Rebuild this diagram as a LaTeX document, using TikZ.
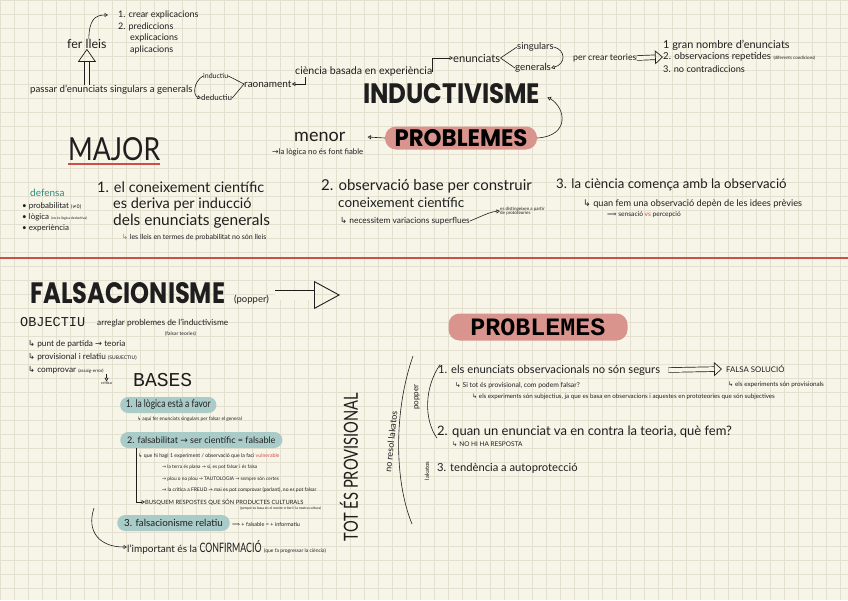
\documentclass[tikz,border=0pt]{standalone}
\usepackage{fontspec}
\usepackage{tikz}
\usepackage{xcolor}
\setmainfont{Lato}
\newfontfamily\epheavy{Poppins}
\newfontfamily\epmono{Liberation Mono}
\newfontfamily\epsymf{DejaVu Sans}
\newcommand{\epfs}[1]{\fontsize{#1}{#1}\selectfont}
\newcommand{\ephk}{{\epsymf ↳}}
\newcommand{\epto}{{\epsymf →}}
\newcommand{\epimp}{{\epsymf ⟹}}
\usetikzlibrary{arrows.meta,positioning}
\definecolor{epbg}{RGB}{247,244,232}
\definecolor{epgrid}{RGB}{228,224,208}
\definecolor{epink}{RGB}{30,30,30}
\definecolor{epred}{RGB}{204,79,74}
\definecolor{eppink}{RGB}{217,148,142}
\definecolor{epteal}{RGB}{46,139,122}
\definecolor{eplightteal}{RGB}{170,204,200}
\tikzset{
  ept/.style={anchor=west, inner sep=0pt, text=epink, font=\epfs{#1}},
  ept/.default=9,
  eptitle/.style={anchor=west, inner sep=0pt, text=epink},
  eppillred/.style={fill=eppink, rounded corners=11pt, inner sep=0pt, align=center},
  eppillteal/.style={fill=eplightteal, rounded corners=8pt, inner xsep=7pt, inner ysep=0pt, minimum height=16pt},
  epline/.style={line width=.6pt, draw=epink},
  eparr/.style={-{Triangle[open, length=3.5pt, width=4pt]}, line width=.6pt, draw=epink},
  ephollow/.style={line width=.7pt, draw=epink, double=epbg, double distance=4pt, -{Triangle[open, length=8pt, width=14pt]}},
  ephollowbig/.style={line width=.9pt, draw=epink, double=epbg, double distance=9pt, -{Triangle[open, length=26pt, width=28pt]}},
  epdivider/.style={line width=2.4pt, draw=epred}
}

\begin{document}
\begin{tikzpicture}[x=1pt, y=-1pt]
  \useasboundingbox (0,0) rectangle (848,600);
  \fill[epbg] (0,0) rectangle (848,600);
  \draw[epgrid, line width=.4pt, step=14pt] (0,0) grid (848,600);

  % inductivisme
  \node[ept=9] (crear) at (118,15) {1. crear explicacions};
  \node[ept=9] (predic) at (118,27) {2. prediccions};
  \node[ept=9] (explic) at (130,38) {explicacions};
  \node[ept=9] (aplic) at (130,50) {aplicacions};
  \node[ept=12.5] (lleis) at (67,44) {fer lleis};
  \node[ept=9.7] (passar) at (30,90) {passar d'enunciats singulars a generals};
  \node[ept=7] (inductiu) at (203,76) {inductiu};
  \node[ept=8] (deductiu) at (201,98) {deductiu};
  \node[ept=10] (raona) at (244,84) {raonament};
  \node[ept=10.6] (ciencia) at (295,72) {ciència basada en experiència};
  \node[ept=11.2] (enunc) at (453,58) {enunciats};
  \node[ept=9.5] (singul) at (517,47) {singulars};
  \node[ept=9.8] (general) at (515,68) {generals};
  \node[ept=8.8] (crearteo) at (573,58) {per crear teories};
  \node[ept=10.9] (gran) at (663,45) {1 gran nombre d'enunciats};
  \node[ept=9.6] (obsrep) at (663,57) {2. observacions repetides {\epfs{4.5}(diferents condicions)}};
  \node[ept=9.2] (nocontra) at (663,69) {3. no contradiccions};
  \node[eptitle] (induct) at (363,94) {\resizebox{177pt}{20pt}{\epheavy\bfseries INDUCTIVISME}};

  \draw[eparr, shorten >=10pt] ([xshift=-18pt]lleis.north east) .. controls (89,20) and (95,15) .. (crear.west);
  \draw[ephollow, -{Triangle[open, length=13pt, width=18pt]}] (lleis.south |- passar.north) -- (lleis.south);
  \draw[eparr] (inductiu.west) .. controls (193,82) and (193,96) .. (deductiu.west);
  \draw[epline] (inductiu.east) -- (raona.west);
  \draw[epline] (deductiu.east) -- (raona.west);
  \draw[eparr] ([xshift=10pt]ciencia.south west) |- (raona.east);
  \draw[eparr] (ciencia.east) |- (enunc.west);
  \draw[epline] (enunc.east) -- (singul.west);
  \draw[epline] (enunc.east) -- (general.west);
  \draw[eparr] (singul.east) .. controls (566,50) and (566,64) .. (general.east);
  \draw[ephollow] (crearteo.east) -- (obsrep.west);

  % problemes
  \node[eppillred, minimum width=152pt, minimum height=23pt] (probtop) at (461,138) {\resizebox{133pt}{17pt}{\epheavy\bfseries PROBLEMES}};
  \node[ept=18] (menor) at (294,137) {menor};
  \node[ept=7.8] (fiable) at (272,152) {\epto la lògica no és font fiable};
  \node[eptitle] (major) at (68,149) {\resizebox{92pt}{23pt}{\epfs{20}MAJOR}};
  \draw[eparr] (probtop.west) -- ([xshift=22pt]menor.east);
  \draw[eparr] (probtop.east) .. controls (570,136) and (566,108) .. ([xshift=7pt,yshift=-3pt]induct.east);
  \draw[line width=1.6pt, draw=epred] ([yshift=-3pt]major.south west) -- ([yshift=-3pt]major.south east);

  \node[ept=10, text=epteal] (defensa) at (30,193) {defensa};
  \node[ept=8] (probab) at (22,206) {• probabilitat {\epfs{5}(\epsymf ≠0)}};
  \node[ept=8] (logica) at (22,217) {• lògica {\epfs{3.5}(no és lògica deductiva)}};
  \node[ept=8] (exper) at (22,228) {• experiència};

  \node[ept=14.5] (major1a) at (97,187) {1. el coneixement científic};
  \node[ept=14.5] (major1b) at (113,204) {es deriva per inducció};
  \node[ept=15.5] (major1c) at (113,221) {dels enunciats generals};
  \node[ept=7] (major1d) at (122,238) {{\color{epred}\ephk} les lleis en termes de probabilitat no són lleis};

  \node[ept=15] (menor2a) at (321,186) {2. observació base per construir};
  \node[ept=13.5] (menor2b) at (338,203) {coneixement científic};
  \node[ept=8.4] (menor2c) at (340,221) {\ephk\ necessitem variacions superflues};
  \node[ept=4.5, align=left] (proto) at (500,211) {es distingeixen a partir\\de prototeories};
  \draw[eparr] (menor2c.east) .. controls (491,212) .. (proto.west);

  \node[ept=13.2] (menor3a) at (556,185) {3. la ciència comença amb la observació};
  \node[ept=9.2] (menor3b) at (583,204) {\ephk\ quan fem una observació depèn de les idees prèvies};
  \node[ept=6.6] (menor3c) at (607,215) {\epimp\ sensació {\color{epred}vs} percepció};

  \draw[epdivider] (0,258) -- (848,258);

  % falsacionisme
  \node[eptitle] (falsac) at (30,293) {\resizebox{195pt}{21pt}{\epheavy\bfseries FALSACIONISME}};
  \node[ept=9.5] (popper) at (234,300) {(popper)};
  \coordinate (falsacend) at (340,295);
  \draw[ephollowbig] ([xshift=6pt]popper.east |- falsacend) -- (falsacend);

  \node[eptitle] (objectiu) at (20,322) {\resizebox{65pt}{!}{\epmono OBJECTIU}};
  \node[ept=8.3] (arreglar) at (97,323) {arreglar problemes de l'inductivisme};
  \node[ept=5] (falsarteo) at (165,334) {(falsar teories)};
  \node[ept=8.3] (obj1) at (28,344) {\ephk\ punt de partida \epto\ teoria};
  \node[ept=8.3] (obj2) at (28,357) {\ephk\ provisional i relatiu {\epfs{5}(SUBJECTIU)}};
  \node[ept=8.3] (obj3) at (28,370) {\ephk\ comprovar {\epfs{4.5}(assaig-error)}};
  \node[ept=4] (critica) at (101,383) {crítica};
  \draw[eparr] (critica.north |- obj3.south) -- (critica.north);
  \node[eptitle] (bases) at (133,380) {\resizebox{59pt}{!}{\epmono BASES}};

  \node[ept=10.6, eppillteal, xscale=.8] (base1) at (120,405) {1. la lògica està a favor};
  \node[ept=4.8] (base1a) at (137,419) {\ephk\ aquí fer enunciats singulars per falsar el general};
  \node[ept=9, eppillteal] (base2) at (120,440) {2. falsabilitat \epto\ ser científic = falsable};
  \node[ept=5.2] (base2a) at (138,456) {\ephk\ que hi hagi 1 experiment / observació que la faci {\color{epred}vulnerable}};
  \node[ept=4.8] (ex1) at (162,467) {\epto\ la terra és plana \epto\ sí, es pot falsar i és falsa};
  \node[ept=4.8] (ex2) at (162,479) {\epto\ plou o no plou \epto\ TAUTOLOGIA \epto\ sempre són certes};
  \node[ept=5] (ex3) at (162,490) {\epto\ la crítica a FREUD \epto\ mai es pot comprovar (parlant), no es pot falsar};
  \node[ept=5.8] (busquem) at (145,502) {BUSQUEM RESPOSTES QUE SÓN PRODUCTES CULTURALS};
  \node[ept=3.5] (perque) at (240,508) {(perquè es basa en el nostre criteri i la nostra cultura)};
  \draw[eparr] ([xshift=16pt]base2.south west) |- (busquem.west);
  \node[ept=9.8, eppillteal] (base3) at (117,523) {3. falsacionisme relatiu};
  \node[ept=5.5] (base3a) at (232,524) {\epimp\ + falsable = + informatiu};
  \coordinate (confstart) at (94,508);
  \node[ept=10] (confirm) at (127,547) {l'important és la \scalebox{.68}[1]{\epfs{13}CONFIRMACIÓ} {\epfs{5}(que fa progressar la ciència)}};
  \draw[eparr] (confstart) .. controls (86,532) and (100,547) .. (confirm.west);

  \node[inner sep=0pt, rotate=90, text=epink] (totprov) at (349,467) {\resizebox{148pt}{18pt}{\epfs{20}TOT ÉS PROVISIONAL}};

  % problemes del falsacionisme
  \node[eppillred, minimum width=179pt, minimum height=27pt] (probbot) at (538,327) {\resizebox{135pt}{!}{\epmono\bfseries PROBLEMES}};
  \node[ept=11.2] (prob1) at (438,370) {1. els enunciats observacionals no són segurs};
  \node[ept=7.8] (falsasol) at (726,369) {FALSA SOLUCIÓ};
  \draw[ephollow] ([xshift=8pt]prob1.east) -- ([xshift=-4pt]falsasol.west);
  \node[ept=6.3] (falsasola) at (728,385) {\ephk\ els experiments són provisionals};
  \node[ept=6.8] (prob1a) at (455,386) {\ephk\ Si tot és provisional, com podem falsar?};
  \node[ept=6.2] (prob1b) at (472,397) {\ephk\ els experiments són subjectius, ja que es basa en observacions i aquestes en prototeories que són subjectives};
  \node[ept=13] (prob2) at (437,432) {2. quan un enunciat va en contra la teoria, què fem?};
  \node[ept=6.5] (prob2a) at (452,444) {\ephk\ NO HI HA RESPOSTA};
  \node[ept=11.2] (prob3) at (437,468) {3. tendència a autoprotecció};
  \node[ept=8, rotate=90, anchor=center] (popperlbl) at (417,397) {popper};
  \node[ept=6, rotate=90, anchor=center] (lakatoslbl) at (427,471) {lakatos};
  \node[ept=9, rotate=84, anchor=center] (noresol) at (391,442) {no resol lakatos};
  \draw[epline] ([xshift=2pt]prob1.north west) .. controls (424,388) and (424,420) .. (prob2.south west);
  \draw[epline] (413,356) .. controls (394,410) and (394,480) .. (412,524);
\end{tikzpicture}
\end{document}
